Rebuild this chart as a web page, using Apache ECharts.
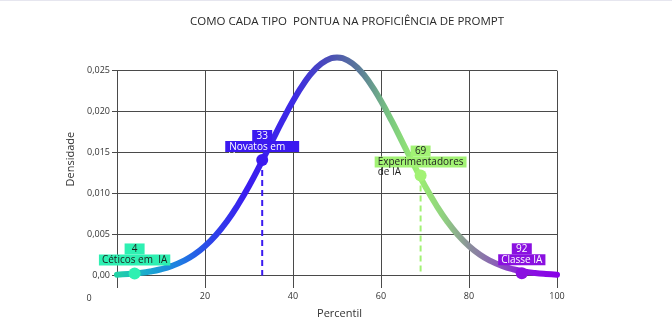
<!DOCTYPE html>
<html>
<head>
<meta charset="utf-8">
<script src="https://cdn.jsdelivr.net/npm/echarts@6/dist/echarts.min.js"></script>
<style>
  html, body { margin: 0; padding: 0; background: #fff; }
  #chart { width: 672px; height: 336px; }
  #topline { position: absolute; left: 0; top: 0; width: 672px; height: 1px; background: #e6e6ef; z-index: 5; }
</style>
</head>
<body>
<div id="topline"></div>
<div id="chart"></div>
<script>
// ---- data ----
const titulo = 'COMO CADA TIPO  PONTUA NA PROFICIÊNCIA DE PROMPT';
const percentis = [0, 2.5, 5, 7.5, 10, 12.5, 15, 17.5, 20, 22.5, 25, 27.5, 30, 32.5, 35, 37.5, 40, 42.5, 45, 47.5, 50,
                   52.5, 55, 57.5, 60, 62.5, 65, 67.5, 70, 72.5, 75, 77.5, 80, 82.5, 85, 87.5, 90, 92.5, 95, 97.5, 100];
const densidades = [0.0001, 0.00018, 0.0003, 0.00048, 0.00076, 0.00117, 0.00175, 0.00254, 0.0036, 0.00495, 0.00663,
                    0.00864, 0.01093, 0.01347, 0.01613, 0.0188, 0.0213, 0.02347, 0.02516, 0.02623, 0.0266,
                    0.02623, 0.02516, 0.02347, 0.0213, 0.0188, 0.01613, 0.01347, 0.01093, 0.00864, 0.00663,
                    0.00495, 0.0036, 0.00254, 0.00175, 0.00117, 0.00076, 0.00048, 0.0003, 0.00018, 0.0001];
const destaquePercentis = [4, 33, 69, 92];
const destaqueDensidades = [0.00025, 0.0141, 0.0122, 0.00027];
const destaqueNomes = ['Céticos em  IA', 'Novatos em\nIA', 'Experimentadores\nde IA', 'Classe IA'];
const linhasTracejadas = [33, 69]; // percentis with a dashed drop line
const xTickLabels = ['0', '20', '40', '60', '80', '100'];
const yTickLabels = ['0,00', '0,005', '0,010', '0,015', '0,020', '0,025'];

// ---- styles ----
const corDestaque = ['#2ef0b2', '#3b19f0', '#a2f274', '#8a10e0'];
const corTexto = ['#1e1e1e', '#ffffff', '#1e1e1e', '#ffffff'];
const gridColor = '#4a4a4a';
const fonte = '"Open Sans", "Noto Sans", sans-serif';

const chart = echarts.init(document.getElementById('chart'), null, { renderer: 'canvas' });

const curve = percentis.map((p, i) => [p, densidades[i]]);

const destaqueData = destaquePercentis.map((p, i) => {
  const lines = destaqueNomes[i].split('\n');
  let fmt = '{n|' + p + '}\n{t|' + lines[0] + '}';
  if (lines[1]) fmt += '\n{w|' + lines[1] + '}';
  const padT = i === 1 ? [1, 14, 0, 4] : [1, 3, 0, 3];
  return {
    value: [p, destaqueDensidades[i]],
    itemStyle: { color: corDestaque[i], opacity: 1 },
    label: {
      show: true,
      position: ['50%', -24],
      align: 'center',
      verticalAlign: 'top',
      formatter: fmt,
      rich: {
        n: { backgroundColor: corDestaque[i], color: corTexto[i], fontSize: 10, lineHeight: 11,
             width: 12, align: 'center', padding: [1, 4, 0, 4], fontFamily: fonte },
        t: { backgroundColor: corDestaque[i], color: corTexto[i], fontSize: 10, lineHeight: 11,
             padding: padT, fontFamily: fonte },
        w: { color: corTexto[i], fontSize: 10, lineHeight: 10, align: 'left', padding: [0, 0, 0, 3], fontFamily: fonte }
      }
    }
  };
});

const dashedSeries = linhasTracejadas.map(p => {
  const i = destaquePercentis.indexOf(p);
  return {
    type: 'line',
    data: [[p, destaqueDensidades[i]], [p, 0]],
    showSymbol: false,
    symbol: 'none',
    silent: true,
    z: 3,
    lineStyle: { color: corDestaque[i], width: 2, type: [6, 4], opacity: 1 },
    animation: false
  };
});

const gradient = new echarts.graphic.LinearGradient(0, 0, 1, 0, [
  { offset: 0.00, color: '#22d6a2' },
  { offset: 0.08, color: '#1aa6d2' },
  { offset: 0.15, color: '#1f7ae2' },
  { offset: 0.22, color: '#2e42ea' },
  { offset: 0.30, color: '#3b1cf0' },
  { offset: 0.40, color: '#3d2ae6' },
  { offset: 0.48, color: '#4a4cb8' },
  { offset: 0.55, color: '#5a7a98' },
  { offset: 0.62, color: '#7ac880' },
  { offset: 0.68, color: '#9cf070' },
  { offset: 0.74, color: '#90d080' },
  { offset: 0.80, color: '#8a8c9c' },
  { offset: 0.86, color: '#8a5cb8' },
  { offset: 0.92, color: '#8a14e0' },
  { offset: 1.00, color: '#8800e8' }
]);

const option = {
  animation: false,
  backgroundColor: '#ffffff',
  textStyle: { fontFamily: fonte },
  title: {
    text: titulo,
    left: 342,
    textAlign: 'center',
    top: 11,
    textStyle: { fontSize: 11.5, fontWeight: 'normal', color: '#2a2a2a', fontFamily: fonte }
  },
  grid: { left: 117, right: 115, top: 70.7, bottom: 60.5, containLabel: false },
  xAxis: [
    {
      type: 'value', position: 'bottom', min: 0, max: 100, interval: 20,
      name: 'Percentil', nameLocation: 'middle', nameGap: 33,
      nameTextStyle: { fontSize: 11, color: '#333', fontFamily: fonte, padding: [0, 0, 0, 5] },
      axisLine: { show: false },
      axisTick: { show: true, inside: false, length: 12.5, lineStyle: { color: gridColor, width: 1 } },
      splitLine: { show: true, lineStyle: { color: gridColor, width: 1 } },
      axisLabel: {
        margin: 16, fontSize: 9, color: '#333', fontFamily: fonte,
        formatter: v => { const s = xTickLabels[Math.round(v / 20)]; return v === 0 ? '{z|' + s + '}' : s; },
        rich: { z: { padding: [2, 56, 0, 0], fontSize: 9, color: '#333', fontFamily: fonte } }
      }
    },
    {
      type: 'value', position: 'top', min: 0, max: 100, interval: 20,
      axisLine: { show: false },
      axisTick: { show: true, inside: false, length: 23.7, lineStyle: { color: gridColor, width: 1 } },
      splitLine: { show: false },
      axisLabel: { show: false }
    }
  ],
  yAxis: [
    {
      type: 'value', position: 'left', min: 0, max: 0.025, interval: 0.005,
      name: 'Densidade', nameLocation: 'middle', nameGap: 35,
      nameTextStyle: { fontSize: 11, color: '#333', fontFamily: fonte, padding: [0, 0, 0, 28] },
      axisLine: { show: false },
      axisTick: { show: true, inside: false, length: 5, lineStyle: { color: gridColor, width: 1 } },
      splitLine: { show: true, lineStyle: { color: gridColor, width: 1 } },
      axisLabel: {
        margin: 7, fontSize: 9, color: '#333', fontFamily: fonte,
        formatter: v => yTickLabels[Math.round(v / 0.005)]
      }
    },
    {
      type: 'value', position: 'right', min: 0, max: 0.025, interval: 0.005,
      axisLine: { show: false },
      axisTick: { show: true, inside: false, length: 16, lineStyle: { color: gridColor, width: 1 } },
      splitLine: { show: false },
      axisLabel: { show: false }
    }
  ],
  series: [
    {
      type: 'line',
      data: curve,
      smooth: true,
      showSymbol: false,
      symbol: 'none',
      clip: false,
      z: 2,
      lineStyle: { width: 6, color: gradient, cap: 'round' }
    },
    ...dashedSeries,
    {
      type: 'scatter',
      data: destaqueData,
      symbolSize: 12,
      z: 4,
      clip: false,
      itemStyle: { opacity: 1 }
    }
  ]
};

chart.setOption(option);
</script>
</body>
</html>
